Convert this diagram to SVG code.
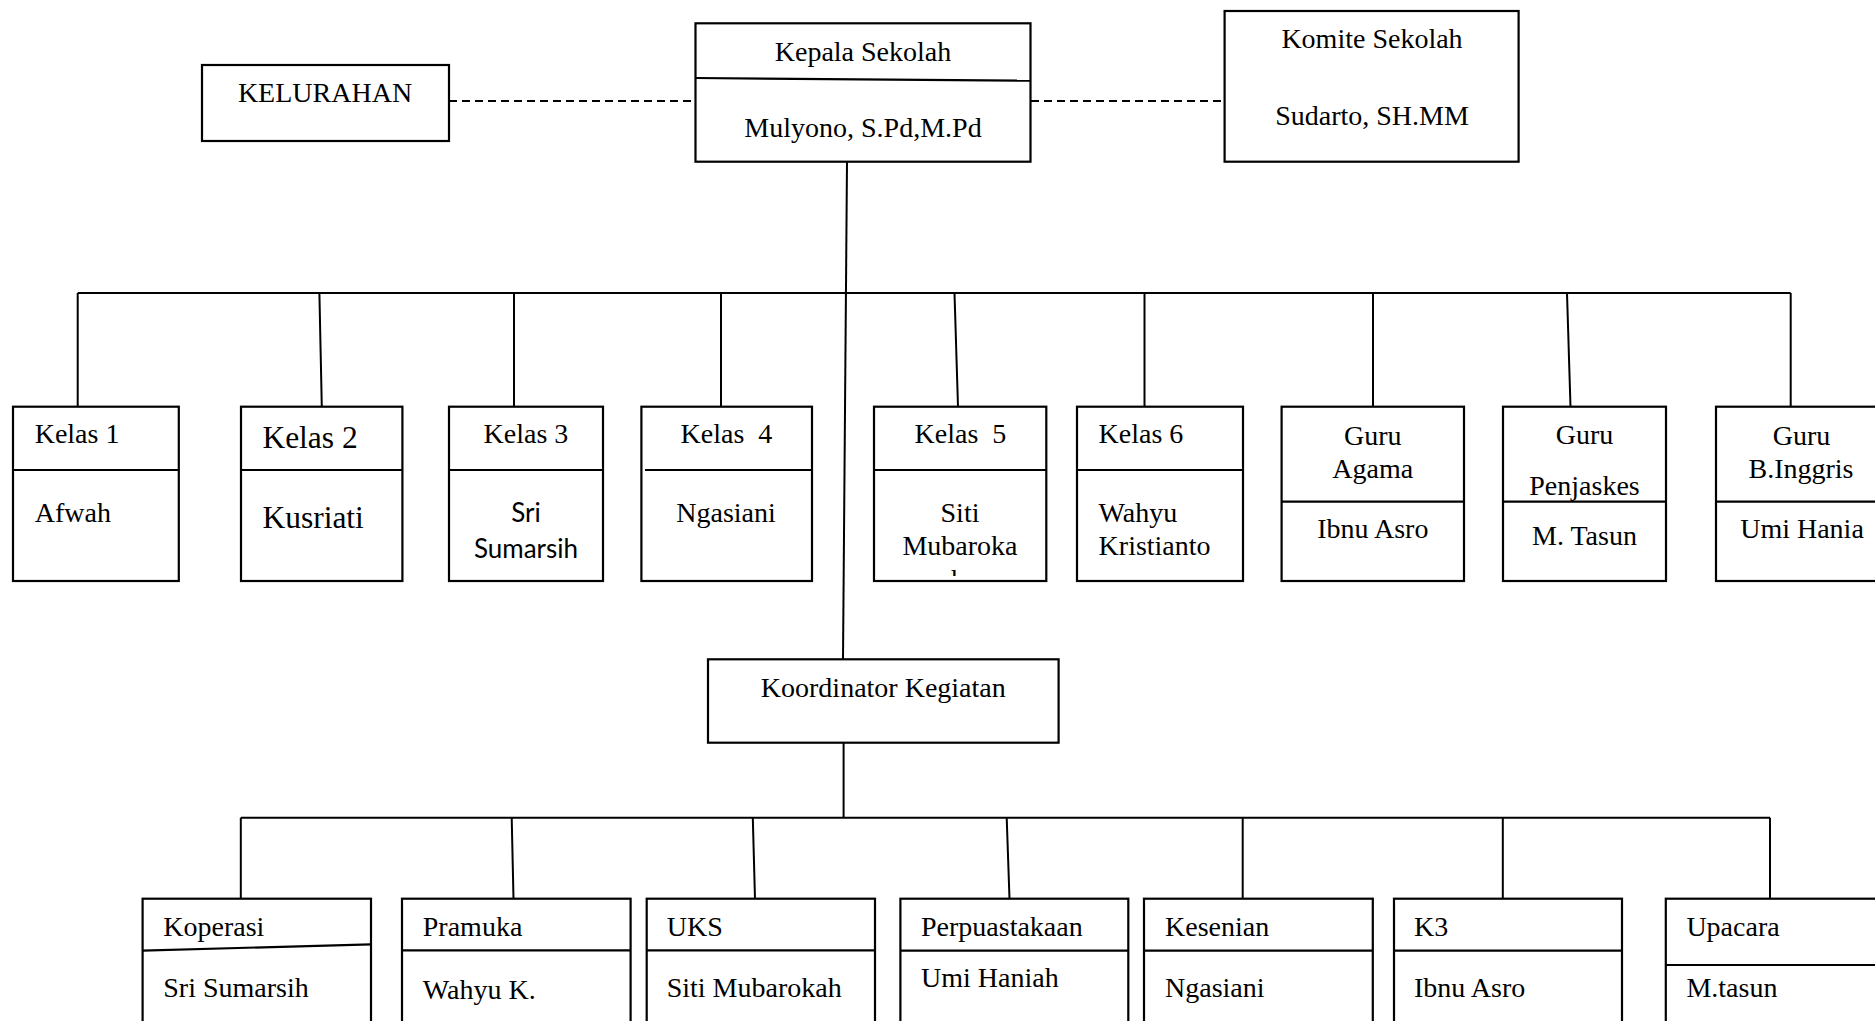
<svg xmlns="http://www.w3.org/2000/svg" width="1875" height="1021" viewBox="0 0 1875 1021">
<style>
.box{fill:#fff;stroke:#000;stroke-width:2.2}
.dv{stroke:#000;stroke-width:2.2;fill:none}
.ln{stroke:#000;stroke-width:2;fill:none}
.dash{stroke-dasharray:8 5}
text{font-family:"Liberation Serif","Times New Roman",serif;font-size:28px;fill:#000}
.c{text-anchor:middle}
.big{font-size:31.5px}
.sans{font-family:Lato,"Open Sans",sans-serif;font-size:26px}
</style>
<defs>
<clipPath id="clip5"><rect x="874" y="470" width="172" height="106"/></clipPath>
</defs>
<rect x="0" y="0" width="1875" height="1021" fill="#fff"/>
<g id="connectors">
<line class="ln dash" x1="449" y1="101" x2="695" y2="101"/>
<line class="ln dash" x1="1031" y1="101" x2="1224" y2="101"/>
<line class="ln" x1="847" y1="162" x2="843" y2="659"/>
<line class="ln" x1="77.7" y1="293" x2="1790.7" y2="293"/>
<line class="ln" x1="77.7" y1="293" x2="77.7" y2="407"/>
<line class="ln" x1="319.4" y1="293" x2="321.8" y2="407"/>
<line class="ln" x1="514" y1="293" x2="514" y2="407"/>
<line class="ln" x1="721" y1="293" x2="721" y2="407"/>
<line class="ln" x1="954.5" y1="293" x2="958" y2="407"/>
<line class="ln" x1="1144.5" y1="293" x2="1144.5" y2="407"/>
<line class="ln" x1="1373" y1="293" x2="1373" y2="407"/>
<line class="ln" x1="1567" y1="293" x2="1570.5" y2="407"/>
<line class="ln" x1="1790.7" y1="293" x2="1790.7" y2="407"/>
<line class="ln" x1="843.6" y1="743" x2="843.6" y2="817.7"/>
<line class="ln" x1="240.8" y1="817.7" x2="1770" y2="817.7"/>
<line class="ln" x1="240.8" y1="817.7" x2="240.8" y2="899"/>
<line class="ln" x1="511.7" y1="817.7" x2="513.5" y2="899"/>
<line class="ln" x1="752.8" y1="817.7" x2="755" y2="899"/>
<line class="ln" x1="1006.7" y1="817.7" x2="1009.5" y2="899"/>
<line class="ln" x1="1242.7" y1="817.7" x2="1242.7" y2="899"/>
<line class="ln" x1="1502.8" y1="817.7" x2="1502.8" y2="899"/>
<line class="ln" x1="1770" y1="817.7" x2="1770" y2="899"/>
</g>
<g id="kelurahan">
<rect class="box" x="202" y="65" width="247" height="76"/>
<text class="c" x="325" y="102">KELURAHAN</text>
</g>
<g id="kepala-sekolah">
<rect class="box" x="695.5" y="23.3" width="335" height="138.4"/>
<line class="dv" x1="695.5" y1="78" x2="1030.5" y2="80.7"/>
<text class="c" x="863" y="61">Kepala Sekolah</text>
<text class="c" x="863" y="137">Mulyono, S.Pd,M.Pd</text>
</g>
<g id="komite-sekolah">
<rect class="box" x="1224.6" y="11" width="294" height="150.7"/>
<text class="c" x="1372" y="48">Komite Sekolah</text>
<text class="c" x="1372" y="125">Sudarto, SH.MM</text>
</g>
<g id="kelas-1">
<rect class="box" x="13" y="406.7" width="165.8" height="174.3"/>
<line class="dv" x1="13" y1="470" x2="178.8" y2="470"/>
<text x="34.7" y="443">Kelas 1</text>
<text x="34.7" y="521.7">Afwah</text>
</g>
<g id="kelas-2">
<rect class="box" x="241" y="406.7" width="161.4" height="174.3"/>
<line class="dv" x1="241" y1="470" x2="402.4" y2="470"/>
<text class="big" x="262.4" y="447.7">Kelas 2</text>
<text class="big" x="262.4" y="528">Kusriati</text>
</g>
<g id="kelas-3">
<rect class="box" x="449" y="406.7" width="154" height="174.3"/>
<line class="dv" x1="449" y1="470" x2="603" y2="470"/>
<text class="c" x="526" y="443">Kelas 3</text>
<text class="c sans" x="526" y="521.7">Sri</text>
<text class="c sans" x="526" y="558.3">Sumarsih</text>
</g>
<g id="kelas-4">
<rect class="box" x="641.4" y="406.7" width="170.6" height="174.3"/>
<line class="dv" x1="645" y1="470" x2="812" y2="470"/>
<text class="c" x="726.5" y="443" xml:space="preserve">Kelas  4</text>
<text class="c" x="726" y="521.7">Ngasiani</text>
</g>
<g id="kelas-5">
<rect class="box" x="874" y="406.7" width="172.3" height="174.3"/>
<line class="dv" x1="874" y1="470" x2="1046.3" y2="470"/>
<text class="c" x="960.5" y="443" xml:space="preserve">Kelas  5</text>
<text class="c" x="960" y="521.7">Siti</text>
<text class="c" x="960" y="555">Mubaroka</text>
<text class="c" x="958" y="589" clip-path="url(#clip5)">h</text>
</g>
<g id="kelas-6">
<rect class="box" x="1077" y="406.7" width="166" height="174.3"/>
<line class="dv" x1="1077" y1="470" x2="1243" y2="470"/>
<text x="1098.6" y="443">Kelas 6</text>
<text x="1098.6" y="521.7">Wahyu</text>
<text x="1098.6" y="555">Kristianto</text>
</g>
<g id="guru-agama">
<rect class="box" x="1281.6" y="406.7" width="182.4" height="174.3"/>
<line class="dv" x1="1281.6" y1="501.7" x2="1464" y2="501.7"/>
<text class="c" x="1372.8" y="445">Guru</text>
<text class="c" x="1372.8" y="478.3">Agama</text>
<text class="c" x="1372.8" y="538.3">Ibnu Asro</text>
</g>
<g id="guru-penjaskes">
<rect class="box" x="1503" y="406.7" width="163" height="174.3"/>
<line class="dv" x1="1503" y1="501.7" x2="1666" y2="501.7"/>
<text class="c" x="1584.5" y="444">Guru</text>
<text class="c" x="1584.5" y="495">Penjaskes</text>
<text class="c" x="1584.5" y="545">M. Tasun</text>
</g>
<g id="guru-binggris">
<rect class="box" x="1716" y="406.7" width="172" height="174.3"/>
<line class="dv" x1="1716" y1="501.7" x2="1888" y2="501.7"/>
<text class="c" x="1801.5" y="445">Guru</text>
<text class="c" x="1801" y="478.3">B.Inggris</text>
<text class="c" x="1802" y="538.3">Umi Hania</text>
</g>
<g id="koordinator-kegiatan">
<rect class="box" x="708" y="659.3" width="350.6" height="83.4"/>
<text class="c" x="883.3" y="696.7">Koordinator Kegiatan</text>
</g>
<g id="koperasi">
<rect class="box" x="142.6" y="898.7" width="228.4" height="150"/>
<line class="dv" x1="142.6" y1="950.7" x2="371" y2="944.3"/>
<text x="163.3" y="936">Koperasi</text>
<text x="163.3" y="997.3">Sri Sumarsih</text>
</g>
<g id="pramuka">
<rect class="box" x="402" y="898.7" width="228.6" height="150"/>
<line class="dv" x1="402" y1="950.3" x2="630.6" y2="950.3"/>
<text x="422.8" y="936">Pramuka</text>
<text x="422.8" y="999.3">Wahyu K.</text>
</g>
<g id="uks">
<rect class="box" x="646.7" y="898.7" width="228.3" height="150"/>
<line class="dv" x1="646.7" y1="950.3" x2="875" y2="950.3"/>
<text x="666.7" y="936">UKS</text>
<text x="666.7" y="997">Siti Mubarokah</text>
</g>
<g id="perpustakaan">
<rect class="box" x="900.4" y="898.7" width="227.9" height="150"/>
<line class="dv" x1="900.4" y1="950.7" x2="1128.3" y2="950.7"/>
<text x="921" y="936">Perpuastakaan</text>
<text x="921" y="986.7">Umi Haniah</text>
</g>
<g id="kesenian">
<rect class="box" x="1144" y="898.7" width="228.8" height="150"/>
<line class="dv" x1="1144" y1="950.7" x2="1372.8" y2="950.7"/>
<text x="1165" y="936">Kesenian</text>
<text x="1165" y="997">Ngasiani</text>
</g>
<g id="k3">
<rect class="box" x="1394" y="898.7" width="228" height="150"/>
<line class="dv" x1="1394" y1="950.7" x2="1622" y2="950.7"/>
<text x="1414" y="936">K3</text>
<text x="1414" y="997">Ibnu Asro</text>
</g>
<g id="upacara">
<rect class="box" x="1665.8" y="898.7" width="240" height="150"/>
<line class="dv" x1="1665.8" y1="965" x2="1905.8" y2="965"/>
<text x="1686.4" y="936">Upacara</text>
<text x="1686.4" y="997">M.tasun</text>
</g>
</svg>
